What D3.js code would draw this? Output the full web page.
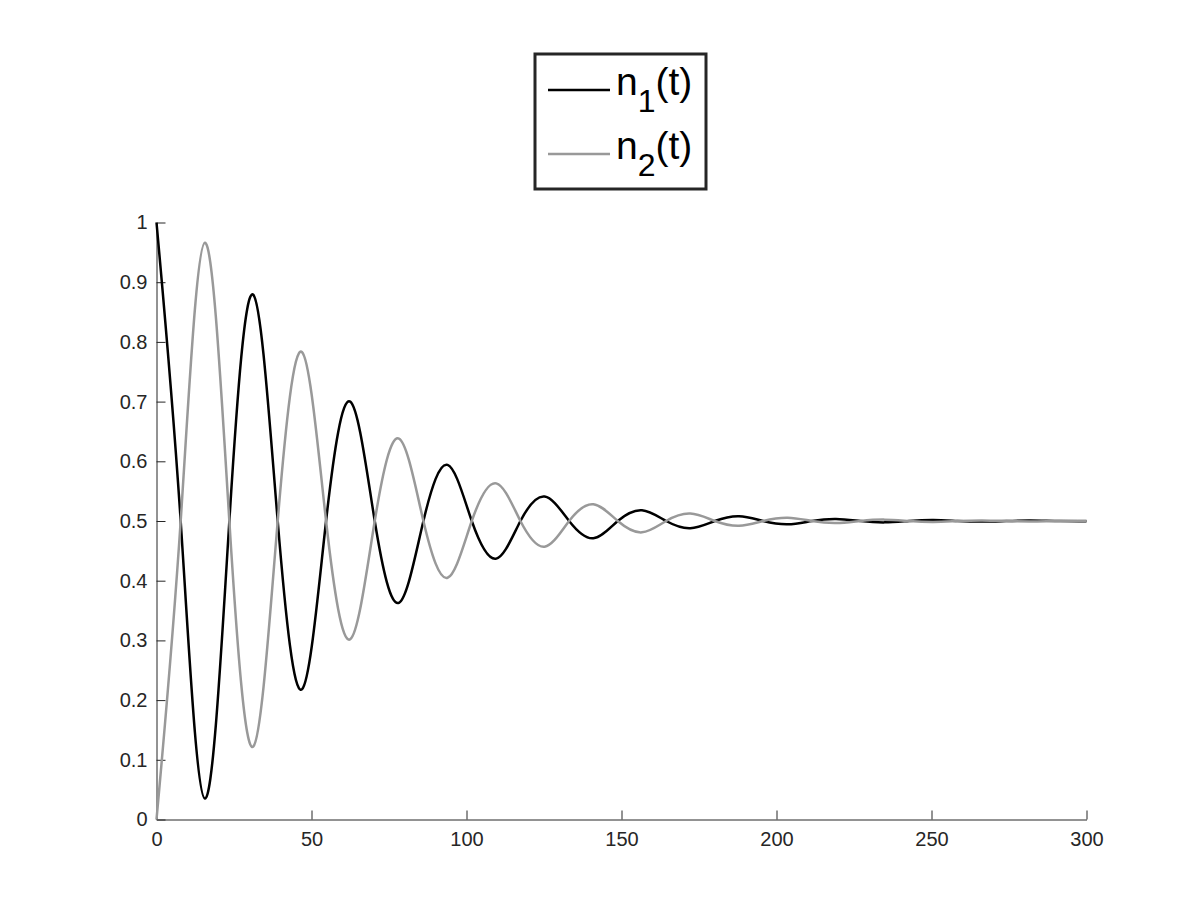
<!DOCTYPE html>
<html>
<head>
<meta charset="utf-8">
<script src="https://cdn.jsdelivr.net/npm/d3@7/dist/d3.min.js"></script>
<style>
  body { margin: 0; background: #fff; }
  svg { display: block; font-family: "Liberation Sans", Arial, Helvetica, sans-serif; }
</style>
</head>
<body>
<svg id="chart" width="1200" height="900"></svg>
<script>
// time points: extrema and mid-level crossings
const tValues = [
  0, 7.8, 15.6, 23.5, 31.2, 39.1, 46.9, 54.7, 62.5, 70.4,
  78.2, 86.1, 93.9, 101.7, 109.6, 117.4, 125.2, 133.1, 140.9, 148.8,
  156.6, 164.4, 172.2, 180.1, 187.9, 195.7, 203.6, 211.4, 219.2, 227.1,
  234.9, 242.8, 250.6, 258.4, 266.3, 274.1, 281.9, 289.8, 297.6, 300
];
const n1Values = [
  1, 0.5, 0.035, 0.5, 0.879, 0.5, 0.218, 0.5, 0.700, 0.5,
  0.363, 0.5, 0.594, 0.5, 0.437, 0.5, 0.541, 0.5, 0.471, 0.5,
  0.518, 0.5, 0.488, 0.5, 0.508, 0.5, 0.4945, 0.5, 0.5035, 0.5,
  0.4977, 0.5, 0.5015, 0.5, 0.499, 0.5, 0.5007, 0.5, 0.4996, 0.4997
];
const n2Values = [
  0, 0.5, 0.966, 0.5, 0.122, 0.5, 0.783, 0.5, 0.302, 0.5,
  0.638, 0.5, 0.405, 0.5, 0.563, 0.5, 0.457, 0.5, 0.528, 0.5,
  0.481, 0.5, 0.5124, 0.5, 0.492, 0.5, 0.5055, 0.5, 0.4965, 0.5,
  0.5023, 0.5, 0.4985, 0.5, 0.501, 0.5, 0.4993, 0.5, 0.5004, 0.5003
];
const xTicks = [0, 50, 100, 150, 200, 250, 300];
const xTickLabels = ['0', '50', '100', '150', '200', '250', '300'];
const yTicks = [0, 0.1, 0.2, 0.3, 0.4, 0.5, 0.6, 0.7, 0.8, 0.9, 1];
const yTickLabels = ['0', '0.1', '0.2', '0.3', '0.4', '0.5', '0.6', '0.7', '0.8', '0.9', '1'];
const seriesSubs = ['1', '2'];
const seriesColors = ['#000000', '#999999'];

const svg = d3.select('#chart');
const axisColor = '#262626';

const x = d3.scaleLinear().domain([0, 300]).range([156.5, 1086.5]);
const y = d3.scaleLinear().domain([0, 1]).range([819.5, 222.5]);

// axes, MATLAB style: ticks point inward, no box
const xAxis = d3.axisBottom(x)
  .tickValues(xTicks)
  .tickFormat((d, i) => xTickLabels[i])
  .tickSizeInner(-9)
  .tickSizeOuter(0)
  .tickPadding(12);

const yAxis = d3.axisLeft(y)
  .tickValues(yTicks)
  .tickFormat((d, i) => yTickLabels[i])
  .tickSizeInner(-9)
  .tickSizeOuter(0)
  .tickPadding(9);

const gx = svg.append('g')
  .attr('transform', `translate(0,${y(0)})`)
  .call(xAxis);

const gy = svg.append('g')
  .attr('transform', `translate(${x(0)},0)`)
  .call(yAxis);

[gx, gy].forEach(g => {
  g.select('.domain').attr('stroke', axisColor).attr('stroke-width', 1);
  g.selectAll('.tick line').attr('stroke', axisColor).attr('stroke-width', 1);
  g.selectAll('.tick text')
    .attr('fill', axisColor)
    .attr('font-size', 20)
    .attr('font-family', '"Liberation Sans", Arial, sans-serif');
});

// curves
const series = [n1Values, n2Values];
const line = d3.line()
  .x(d => x(d[0]))
  .y(d => y(d[1]))
  .curve(d3.curveNatural);

series.forEach((vals, i) => {
  svg.append('path')
    .datum(tValues.map((t, j) => [t, vals[j]]))
    .attr('fill', 'none')
    .attr('stroke', seriesColors[i])
    .attr('stroke-width', 2.5)
    .attr('d', line);
});

// legend
const legend = svg.append('g');
legend.append('rect')
  .attr('x', 535)
  .attr('y', 54)
  .attr('width', 171)
  .attr('height', 135)
  .attr('fill', '#fff')
  .attr('stroke', axisColor)
  .attr('stroke-width', 3);

const rowY = [90, 154];
seriesSubs.forEach((sub, i) => {
  legend.append('line')
    .attr('x1', 548).attr('x2', 610)
    .attr('y1', rowY[i]).attr('y2', rowY[i])
    .attr('stroke', seriesColors[i])
    .attr('stroke-width', 2.5);

  const txt = legend.append('text')
    .attr('x', 616)
    .attr('y', rowY[i] + 5)
    .attr('font-size', 39)
    .attr('fill', '#000');
  txt.append('tspan').text('n');
  txt.append('tspan').attr('dy', 17).attr('font-size', 32).text(sub);
  txt.append('tspan').attr('dy', -17).text('(t)');
});
</script>
</body>
</html>
